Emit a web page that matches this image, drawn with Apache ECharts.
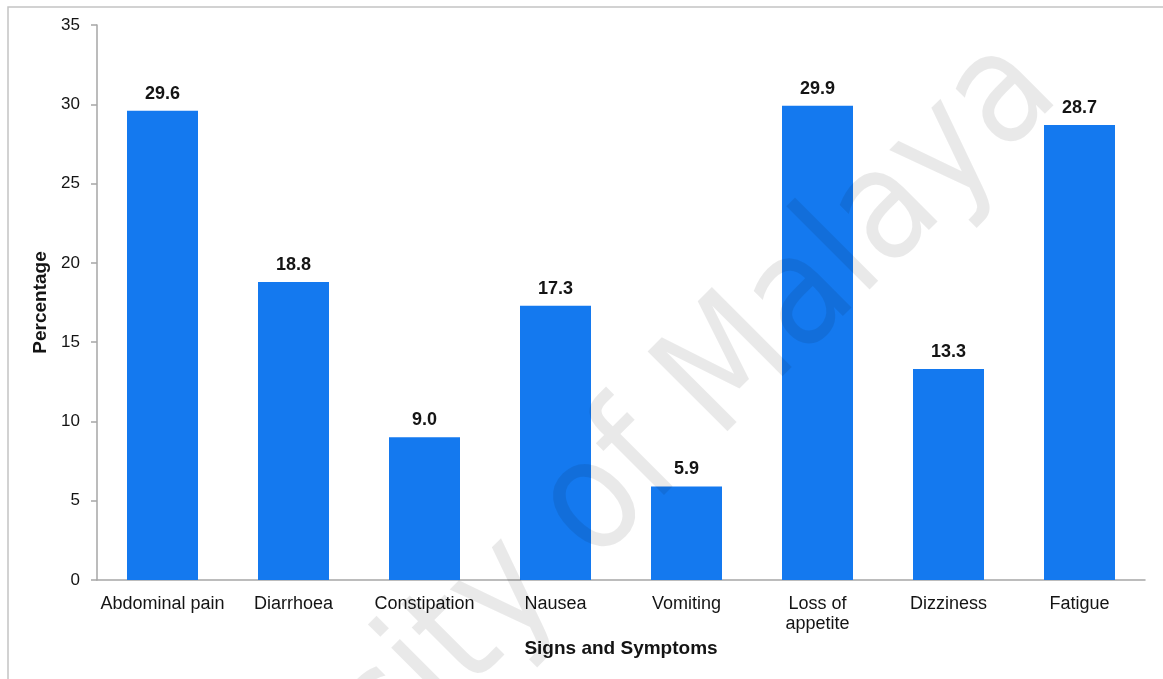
<!DOCTYPE html>
<html>
<head>
<meta charset="utf-8">
<title>Signs and Symptoms</title>
<script src="https://cdn.jsdelivr.net/npm/echarts@6/dist/echarts.min.js"></script>
<style>
  html, body { margin: 0; padding: 0; background: #ffffff; }
  #chart { width: 1163px; height: 679px; }
</style>
</head>
<body>
<div id="chart"></div>
<script>
// Signs and symptoms reported, as a percentage of respondents
const categories = ['Abdominal pain', 'Diarrhoea', 'Constipation', 'Nausea', 'Vomiting', 'Loss of\nappetite', 'Dizziness', 'Fatigue'];
const percentages = [29.6, 18.8, 9.0, 17.3, 5.9, 29.9, 13.3, 28.7];
const yTicks = { min: 0, max: 35, interval: 5 };

const textColor = '#141414';
const axisGray = '#a6a6a6';

const chart = echarts.init(document.getElementById('chart'), null, { renderer: 'canvas' });

chart.setOption({
  backgroundColor: '#ffffff',
  animation: false,
  textStyle: { fontFamily: 'Liberation Sans, Arial, sans-serif' },
  graphic: [
    {
      // outer frame
      type: 'rect',
      z: -20,
      silent: true,
      shape: { x: 8, y: 7, width: 1170, height: 700 },
      style: { fill: 'none', stroke: '#c4c4c4', lineWidth: 1.5 }
    },
    {
      // translucent diagonal watermark laid over the plot
      type: 'text',
      z: 100,
      silent: true,
      x: 1034,
      y: 68,
      rotation: Math.PI / 4,
      scaleX: 0.88,
      style: {
        text: 'University of Malaya',
        fontFamily: 'DejaVu Sans, sans-serif',
        fontSize: 155,
        fill: 'rgba(0,0,0,0.085)',
        align: 'right',
        verticalAlign: 'middle'
      }
    }
  ],
  grid: { left: 97, right: 18, top: 25, bottom: 99, containLabel: false },
  xAxis: {
    type: 'category',
    data: categories,
    name: 'Signs and Symptoms',
    nameLocation: 'middle',
    nameGap: 58,
    nameTextStyle: { fontSize: 19, fontWeight: 'bold', color: textColor },
    axisLine: { show: true, lineStyle: { color: axisGray, width: 1.5 } },
    axisTick: { show: false },
    axisLabel: { fontSize: 18, color: textColor, margin: 14, lineHeight: 20, interval: 0 }
  },
  yAxis: {
    type: 'value',
    min: yTicks.min,
    max: yTicks.max,
    interval: yTicks.interval,
    name: 'Percentage',
    nameLocation: 'middle',
    nameGap: 46,
    nameRotate: 90,
    nameTextStyle: { fontSize: 19, fontWeight: 'bold', color: textColor },
    axisLine: { show: true, lineStyle: { color: axisGray, width: 1.5 } },
    axisTick: { show: true, length: 6, lineStyle: { color: axisGray, width: 1.5 } },
    axisLabel: { fontSize: 17, color: textColor, margin: 17 },
    splitLine: { show: false }
  },
  series: [{
    type: 'bar',
    data: percentages,
    barWidth: 71,
    itemStyle: { color: '#1479EF' },
    label: {
      show: true,
      position: 'top',
      distance: 8,
      fontSize: 18,
      fontWeight: 'bold',
      color: textColor,
      formatter: p => p.value.toFixed(1)
    }
  }]
});
</script>
</body>
</html>
